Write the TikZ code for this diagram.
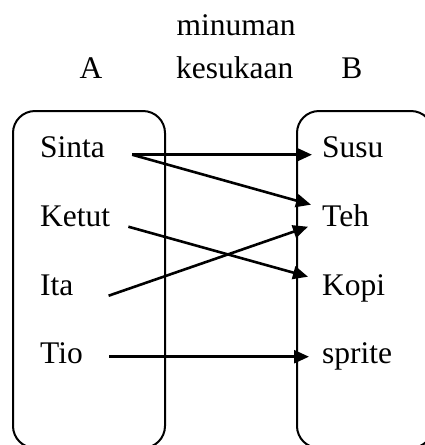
\documentclass[tikz,border=0pt]{standalone}
\usepackage{fontspec}
\setmainfont{Liberation Serif}
\usetikzlibrary{arrows.meta}
\usetikzlibrary{positioning}

\begin{document}
\begin{tikzpicture}[x=1pt,y=-1pt,
    every node/.style={font=\fontsize{31.5}{38}\selectfont, inner sep=0pt},
    set/.style={draw, line width=2pt, rounded corners=22pt},
    map/.style={-{Triangle[length=15pt,width=13pt]}, line width=2.6pt}]
            \useasboundingbox (0,0) rectangle (425,445);
            \draw[set] (13,111) rectangle (165,448);
            \draw[set] (297,111) rectangle (433,448);
            \node[anchor=base] (judul) at (236,35) {minuman};
            \node[anchor=base west] (kesukaan) at (176,78) {kesukaan};
            \node[anchor=base] (A) at (91,78) {A};
            \node[anchor=base] (B) at (352,78) {B};
            \node[anchor=base west] (Sinta) at (40,157) {Sinta};
            \node[anchor=base west] (Ketut) at (40,226) {Ketut};
            \node[anchor=base west] (Ita) at (40,295) {Ita};
            \node[anchor=base west] (Tio) at (40,363) {Tio};
            \node[anchor=base west] (Susu) at (322,157) {Susu};
            \node[anchor=base west] (Teh) at (322,226) {Teh};
            \node[anchor=base west] (Kopi) at (322,295) {Kopi};
            \node[anchor=base west] (sprite) at (322,363) {sprite};
    	    \draw[map] ([xshift=27pt]Sinta.mid east) -- ([xshift=-10pt]Susu.mid west);
    	    \draw[map] ([xshift=27pt]Sinta.mid east) -- ([xshift=-11pt,yshift=19pt]Teh.mid west);
    	    \draw[map] ([xshift=18pt,yshift=-3pt]Ketut.mid east) -- ([xshift=-14pt,yshift=16pt]Kopi.mid west);
    	    \draw[map] ([xshift=35pt,yshift=-3pt]Ita.mid east) -- ([xshift=-14pt,yshift=-3pt]Teh.mid west);
    	    \draw[map] ([xshift=26pt,yshift=4pt]Tio.mid east) -- ([xshift=-13pt,yshift=4pt]sprite.mid west);
\end{tikzpicture}
\end{document}
